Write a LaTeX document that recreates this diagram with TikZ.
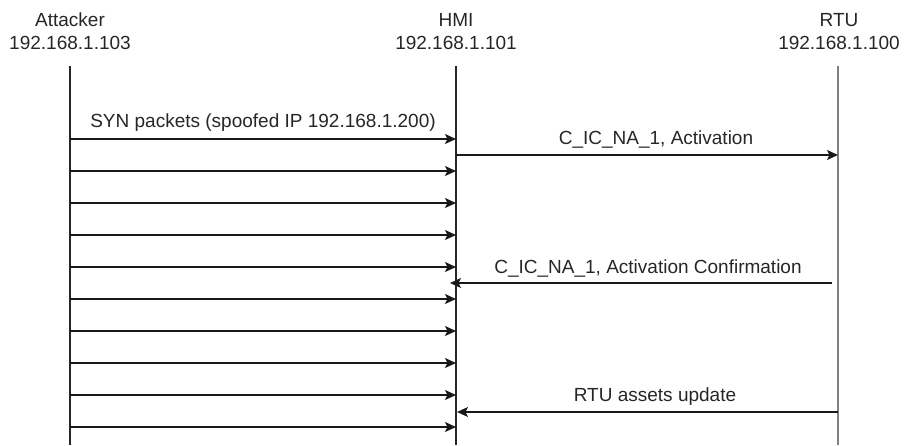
\documentclass[tikz,border=0pt]{standalone}
\usepackage{fontspec}
\setmainfont{Liberation Sans}
\usetikzlibrary{arrows.meta}
\begin{document}
\begin{tikzpicture}[x=1pt,y=-1pt,
  every node/.style={font=\fontsize{19}{23}\selectfont, text=black!85, inner sep=0pt},
  lifeline/.style={line width=1.2pt, draw=black!85},
  rtuline/.style={line width=2pt, draw=black!50},
  msg/.style={line width=1.2pt, draw=black!90, -{Stealth[length=11pt,width=10pt,inset=2.5pt]}}]
\useasboundingbox (0,0) rectangle (904,445);
% headers
\node[align=center] (att) at (70,31.5) {Attacker\\192.168.1.103};
\node[align=center] (hmi) at (456,31.5) {HMI\\192.168.1.101};
\node[align=center] (rtu) at (839,31.5) {RTU\\192.168.1.100};
% lifelines
\coordinate (attT) at (70,66);  \coordinate (attB) at (70,445);
\coordinate (hmiT) at (456,66); \coordinate (hmiB) at (456,445);
\coordinate (rtuT) at (838,66); \coordinate (rtuB) at (838,445);
\draw[lifeline] (attT) -- (attB);
\draw[lifeline] (hmiT) -- (hmiB);
\draw[rtuline] (rtuT) -- (rtuB);
% SYN flood
\foreach \i in {0,...,9}{
  \coordinate (a\i) at (70,139+32*\i);
  \coordinate (h\i) at (456,139+32*\i);
  \draw[msg] (a\i) -- (h\i);
}
\node (synlbl) at (263,123) {SYN packets (spoofed IP 192.168.1.200)};
% HMI <-> RTU
\coordinate (hA) at (456,155); \coordinate (rA) at (838,155);
\draw[msg] (hA) -- (rA);
\node (actlbl) at (656,139) {C\_IC\_NA\_1, Activation};
\coordinate (rC) at (832,283); \coordinate (hC) at (450,283);
\draw[msg] (rC) -- (hC);
\node (conflbl) at (648,268) {C\_IC\_NA\_1, Activation Confirmation};
\coordinate (rU) at (838,412); \coordinate (hU) at (457,412);
\draw[msg] (rU) -- (hU);
\node (updlbl) at (655,397) {RTU assets update};
\end{tikzpicture}
\end{document}
